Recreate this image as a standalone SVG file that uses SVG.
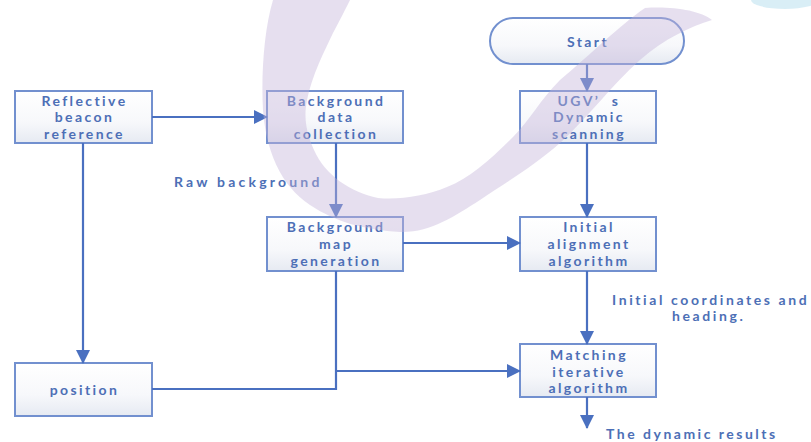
<svg xmlns="http://www.w3.org/2000/svg" width="811" height="442" viewBox="0 0 811 442">
  <defs>
    <linearGradient id="boxFill" x1="0" y1="0" x2="0" y2="1">
      <stop offset="0" stop-color="#ffffff"/>
      <stop offset="0.6" stop-color="#f7f8fb"/>
      <stop offset="1" stop-color="#e6eaf2"/>
    </linearGradient>
    <marker id="arrow" viewBox="0 0 14 14" refX="13" refY="7" markerWidth="14" markerHeight="14" markerUnits="userSpaceOnUse" orient="auto">
      <path d="M0,0 L14,7 L0,14 Z" fill="#4a70c0"/>
    </marker>
    <style>
      .box { fill: url(#boxFill); stroke: #7290cf; stroke-width: 2; }
      .lbl { font-family: Lato, "Open Sans", "Liberation Sans", sans-serif; font-weight: 700; font-size: 14px; fill: #4d6fb6; text-anchor: middle; letter-spacing: 2.4px; }
      .note { font-family: Lato, "Open Sans", "Liberation Sans", sans-serif; font-weight: 700; font-size: 14px; fill: #4d6fb6; letter-spacing: 2.6px; }
      .wire { fill: none; stroke: #4a70c0; stroke-width: 2.2; }
      .wm { fill: #c4b2da; opacity: 0.42; }
    </style>
  </defs>

  <rect width="811" height="442" fill="#ffffff"/>

  <g id="nodes">
    <g id="start">
      <rect class="box" x="490" y="18" width="194" height="46" rx="23" ry="23"/>
      <text class="lbl" x="588" y="47">Start</text>
    </g>
    <g id="reflective-beacon">
      <rect class="box" x="15" y="91" width="137" height="52"/>
      <text class="lbl" x="84.5" y="106">Reflective</text>
      <text class="lbl" x="84.5" y="122">beacon</text>
      <text class="lbl" x="84.5" y="139">reference</text>
    </g>
    <g id="background-collection">
      <rect class="box" x="267" y="91" width="136" height="52"/>
      <text class="lbl" x="336" y="106">Background</text>
      <text class="lbl" x="336" y="122">data</text>
      <text class="lbl" x="336" y="139">collection</text>
    </g>
    <g id="ugv-scanning">
      <rect class="box" x="520" y="91" width="136" height="52"/>
      <text class="lbl" x="589" y="106" xml:space="preserve">UGV’  s</text>
      <text class="lbl" x="589" y="122">Dynamic</text>
      <text class="lbl" x="589" y="139">scanning</text>
    </g>
    <g id="background-map">
      <rect class="box" x="267" y="217" width="136" height="54"/>
      <text class="lbl" x="336" y="232">Background</text>
      <text class="lbl" x="336" y="249">map</text>
      <text class="lbl" x="336" y="266">generation</text>
    </g>
    <g id="initial-alignment">
      <rect class="box" x="520" y="217" width="136" height="54"/>
      <text class="lbl" x="589" y="232">Initial</text>
      <text class="lbl" x="589" y="249">alignment</text>
      <text class="lbl" x="589" y="266">algorithm</text>
    </g>
    <g id="matching-iterative">
      <rect class="box" x="520" y="344" width="136" height="53"/>
      <text class="lbl" x="589" y="360">Matching</text>
      <text class="lbl" x="589" y="377">iterative</text>
      <text class="lbl" x="589" y="393">algorithm</text>
    </g>
    <g id="position">
      <rect class="box" x="15" y="363" width="137" height="53"/>
      <text class="lbl" x="84.5" y="395">position</text>
    </g>
  </g>

  <g id="connectors">
    <line class="wire" x1="587" y1="64" x2="587" y2="91" marker-end="url(#arrow)"/>
    <line class="wire" x1="152" y1="117" x2="267" y2="117" marker-end="url(#arrow)"/>
    <line class="wire" x1="336" y1="143" x2="336" y2="217" marker-end="url(#arrow)"/>
    <line class="wire" x1="587" y1="143" x2="587" y2="217" marker-end="url(#arrow)"/>
    <line class="wire" x1="403" y1="243" x2="520" y2="243" marker-end="url(#arrow)"/>
    <line class="wire" x1="83" y1="143" x2="83" y2="363" marker-end="url(#arrow)"/>
    <line class="wire" x1="587" y1="271" x2="587" y2="344" marker-end="url(#arrow)"/>
    <polyline class="wire" points="152,389 336,389 336,271"/>
    <line class="wire" x1="336" y1="371" x2="520" y2="371" marker-end="url(#arrow)"/>
    <line class="wire" x1="587" y1="397" x2="587" y2="428" marker-end="url(#arrow)"/>
    <text class="note" x="174" y="187" style="letter-spacing:3.2px">Raw background</text>
    <text class="note" x="612" y="305">Initial coordinates and</text>
    <text class="note" x="672" y="321">heading.</text>
    <text class="note" x="606" y="439" style="letter-spacing:2.5px">The dynamic results</text>
  </g>

  <!-- faint swoosh mark laid over the chart -->
  <g id="swoosh">
    <path class="wm" d="M273,0 C264,30 261,75 263,110 C266,150 280,185 310,205 C335,222 365,230 400,232 C430,233 455,216 480,200 C510,180 535,165 560,143 C590,115 612,85 640,60 C665,38 690,27 712,20 C700,10 670,6 645,8 C620,25 590,55 560,80 C540,100 530,120 513,137 C490,160 470,178 447,187 C425,196 400,200 378,198 C350,192 325,175 314,150 C305,130 304,115 307,100 C312,75 325,50 333,33 C340,20 346,8 350,0 Z"/>
    <ellipse cx="785" cy="0" rx="34" ry="9" fill="#cfeaf4" opacity="0.8"/>
  </g>
</svg>
